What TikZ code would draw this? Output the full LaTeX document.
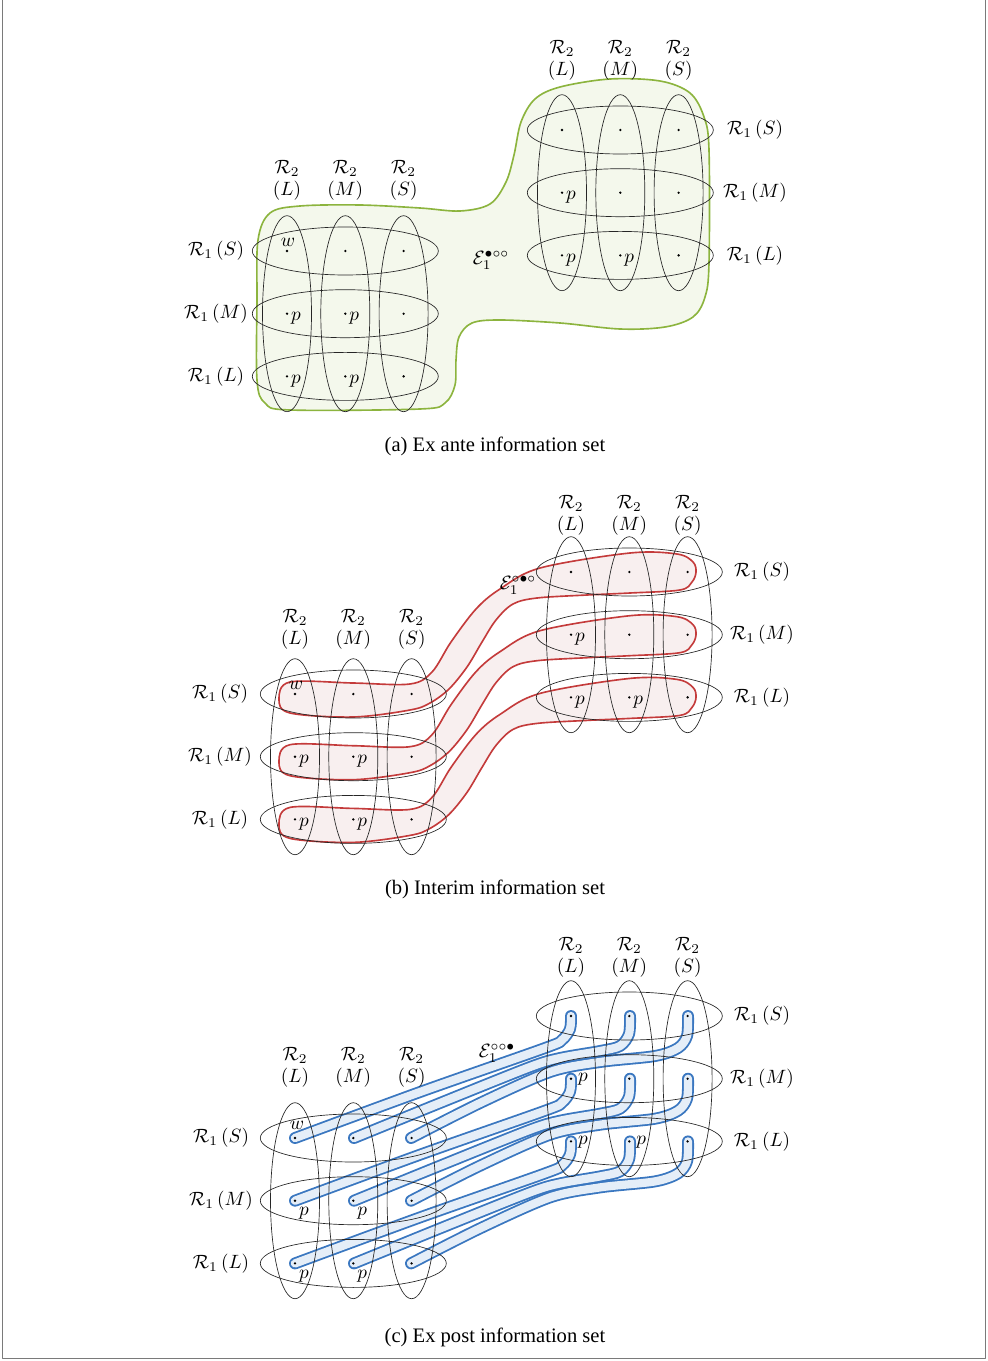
\documentclass[tikz,border=0pt]{standalone}
\usepackage[no-math]{fontspec}
\newfontfamily\capfont{Liberation Serif}

\definecolor{exante}{HTML}{8CB43E}
\definecolor{exantefill}{HTML}{F4F8EC}
\definecolor{interim}{HTML}{C43B3B}
\definecolor{interimfill}{HTML}{F8EFEF}
\definecolor{expost}{HTML}{3A77C0}
\definecolor{expostfill}{HTML}{E5EEF8}
\definecolor{rim}{HTML}{7A7A7A}

\begin{document}
\begin{tikzpicture}[
  x=0.52pt, y=-0.52pt,
  line cap=round, line join=round,
  every node/.style={inner sep=1pt},
  cell/.style={draw=black!85, line width=0.35pt},
  exante set/.style={draw=exante, fill=exantefill, line width=0.85pt},
  interim set/.style={draw=interim, fill=interimfill, line width=0.85pt},
  tube/.style={draw=expostfill, line width=4.3pt, preaction={draw=expost, line width=6.2pt}},
  caption/.style={font=\capfont\fontsize{10.7}{13}\selectfont},
]
\useasboundingbox (0,0) rectangle (988,1361);
\draw[rim, line width=0.8pt] (2.5,0) -- (2.5,1358.5) -- (985.5,1358.5) -- (985.5,0);

% (a) ex ante: one set
\filldraw[exante set] plot[smooth cycle, tension=0.55] coordinates {
  (257,300) (258,240) (270,213) (300,206) (360,205) (420,208) (460,211)
  (490,204) (506,182) (514,155) (521,122) (535,99) (560,87) (610,79)
  (660,81) (690,93) (704,117) (709,150) (709,263) (705,297) (693,317)
  (665,327) (620,329) (560,323) (500,320) (472,323) (459,337) (456,360)
  (455,385) (445,403) (420,409) (290,410) (265,403) (257,380)};

% (b) interim: one set per row
\foreach \r in {0,1,2}
  \filldraw[interim set, shift={(0,\r*62.7)}] plot[smooth cycle, tension=0.55] coordinates {
    (290,682) (353,683) (410,684) (432,672) (451,642) (476,609) (500,589)
    (540,568) (630,553) (677,554) (693,562) (696,572) (692,582) (680,590)
    (630,593) (587,595) (537,598) (513,604) (496,620) (482,642) (467,667)
    (449,689) (430,703) (410,710) (353,717) (290,713) (279,699)};

% (c) ex post: one set per state
\foreach \r in {0,1,2}{
  \begin{scope}[shift={(0,\r*62.7)}]
    \draw[tube] plot[smooth] coordinates {(688,1016) (687,1036) (678,1048) (655,1056) (600,1062) (550,1072) (480,1103) (411,1138)};
    \draw[tube] plot[smooth] coordinates {(630,1016) (629,1034) (620,1046) (600,1051) (560,1058) (530,1067) (440,1103) (354,1138)};
    \draw[tube] plot[smooth] coordinates {(571,1016) (570,1029) (562,1040) (545,1048) (420,1092) (295,1138)};
  \end{scope}
}

% the six grids of types
\foreach \g/\gx/\gy/\lx/\ly in {aL/287/251/-71/-83, aR/562/130/193/-82, bL/295/694/-75/-77,
                                bR/571/572/191/-69, cL/295/1138/-74/-83, cR/571/1016/191/-71}{
  \foreach \c/\cn in {0/L,1/M,2/S}{
    \draw[cell] (\gx+\c*58.3, \gy+62.7) ellipse [x radius=24.5, y radius=98];
    \node (\g-r2-\cn) at (\gx+\c*58.3, \gy+\ly) {$\mathcal{R}_2$};
    \node (\g-t2-\cn) at (\gx+\c*58.3, \gy+\ly+23) {$(\cn)$};
  }
  \foreach \r/\rn in {0/S,1/M,2/L}{
    \draw[cell] (\gx+58.3, \gy+\r*62.7) ellipse [x radius=93, y radius=24];
    \node (\g-r1-\rn) at (\gx+\lx, \gy+\r*62.7) {$\mathcal{R}_1\,(\rn)$};
    \foreach \c in {0,1,2}
      \fill (\gx+\c*58.3, \gy+\r*62.7) coordinate (\g-\r\c) circle[radius=1.3];
  }
}

% p and w marks
\foreach \g/\ox/\oy in {aL/9/5, bL/9/5, cL/9/13}{
  \foreach \k in {10,11,20,21}
    \path (\g-\k) ++(\ox,\oy) node {$p$};
}
\foreach \g/\ox/\oy in {aR/9/5, bR/9/5, cR/12/1}{
  \foreach \k in {10,20,21}
    \path (\g-\k) ++(\ox,\oy) node {$p$};
}
\path (aL-00) ++(1,-9) node {$w$};
\path (bL-00) ++(1,-9) node {$w$};
\path (cL-00) ++(2,-13) node {$w$};

\node (ea) at (491,260) {$\mathcal{E}_1^{\bullet\circ\circ}$};
\node (eb) at (518,585) {$\mathcal{E}_1^{\circ\bullet\circ}$};
\node (ec) at (497,1053) {$\mathcal{E}_1^{\circ\circ\bullet}$};

\node[caption] (capa) at (495,446) {(a) Ex ante information set};
\node[caption] (capb) at (495,889) {(b) Interim information set};
\node[caption] (capc) at (495,1337) {(c) Ex post information set};
\end{tikzpicture}
\end{document}
